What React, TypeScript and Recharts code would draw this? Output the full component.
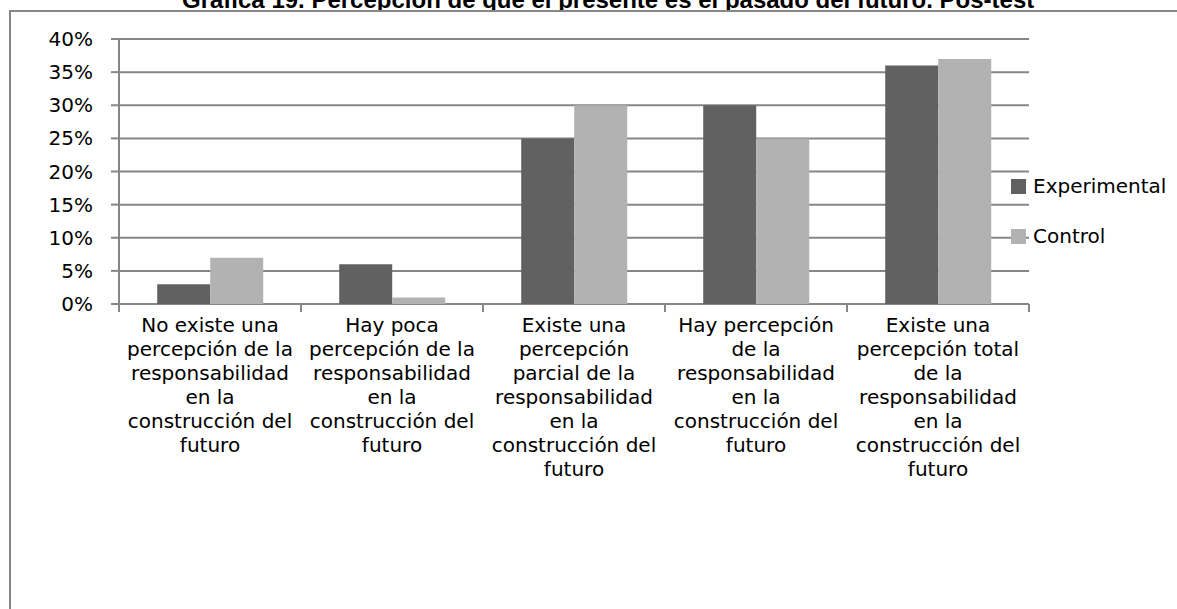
import React from 'react';
import { BarChart, Bar, XAxis, YAxis, CartesianGrid, Legend } from 'recharts';

const categories = [
  'No existe una percepción de la responsabilidad en la construcción del futuro',
  'Hay poca percepción de la responsabilidad en la construcción del futuro',
  'Existe una percepción parcial de la responsabilidad en la construcción del futuro',
  'Hay percepción de la responsabilidad en la construcción del futuro',
  'Existe una percepción total de la responsabilidad en la construcción del futuro',
];

// how the category labels wrap in the original
const tickLines = [
  ['No existe una', 'percepción de la', 'responsabilidad', 'en la', 'construcción del', 'futuro'],
  ['Hay poca', 'percepción de la', 'responsabilidad', 'en la', 'construcción del', 'futuro'],
  ['Existe una', 'percepción', 'parcial de la', 'responsabilidad', 'en la', 'construcción del', 'futuro'],
  ['Hay percepción', 'de la', 'responsabilidad', 'en la', 'construcción del', 'futuro'],
  ['Existe una', 'percepción total', 'de la', 'responsabilidad', 'en la', 'construcción del', 'futuro'],
];

const experimental = [3, 6, 25, 30, 36];
const control = [7, 1, 30, 25, 37];
const seriesNames = ['Experimental', 'Control'];

const yTicks = [0, 5, 10, 15, 20, 25, 30, 35, 40];

const title = 'Gráfica 19. Percepción de que el presente es el pasado del futuro. Pos-test';

const data = categories.map((name, i) => ({
  name,
  experimental: experimental[i],
  control: control[i],
}));

const FONT = '"DejaVu Sans", sans-serif';
const GRID = '#868686';

function CategoryTick(props: any) {
  const { x, y, payload, index, visibleTicksCount } = props;
  const lines = tickLines[payload.index] || [payload.value];
  const half = payload.offset || 0;
  const last = index === (visibleTicksCount || categories.length) - 1;
  return (
    <g>
      {half > 0 && <line x1={x - half} x2={x - half} y1={y} y2={y + 8} stroke={GRID} strokeWidth={2} />}
      {half > 0 && last && <line x1={x + half} x2={x + half} y1={y} y2={y + 8} stroke={GRID} strokeWidth={2} />}
      <text x={x} y={y} textAnchor="middle" fill="#000" fontSize={20} fontFamily={FONT}>
        {lines.map((l: string, i: number) => (
          <tspan key={i} x={x} y={y + 28 + i * 24}>
            {l}
          </tspan>
        ))}
      </text>
    </g>
  );
}

function LegendBox(props: any) {
  const items = [...(props.payload || [])].sort(
    (a: any, b: any) => seriesNames.indexOf(a.value) - seriesNames.indexOf(b.value)
  );
  return (
    <div style={{ fontFamily: FONT, fontSize: 20, color: '#000', whiteSpace: 'nowrap' }}>
      {items.map((it: any) => (
        <div key={it.value} style={{ display: 'flex', alignItems: 'center', height: 50 }}>
          <span style={{ width: 15, height: 15, flexShrink: 0, background: it.color, marginRight: 7 }} />
          <span>{it.value}</span>
        </div>
      ))}
    </div>
  );
}

export default function App() {
  return (
    <div
      style={{
        position: 'fixed',
        left: 0,
        top: 0,
        width: 1177,
        height: 609,
        overflow: 'hidden',
        background: '#fff',
      }}
    >
      <div style={{ position: 'absolute', left: 8, top: 8, width: 1161, height: 593 }}>
        {/* title sits behind the frame; the frame hides its lower part like in the source */}
        <div
          style={{
            position: 'absolute',
            left: 174,
            top: -20,
            width: 850,
            textAlign: 'center',
            fontFamily: '"Liberation Sans", Arial, sans-serif',
            fontWeight: 'bold',
            fontSize: 24,
            lineHeight: '24px',
            whiteSpace: 'nowrap',
          }}
        >
          {title}
        </div>
        <div
          style={{
            position: 'absolute',
            left: 1,
            top: 2,
            width: 1300,
            height: 700,
            background: '#fff',
            border: `2px solid ${GRID}`,
            boxSizing: 'border-box',
          }}
        />
        <BarChart
          width={1161}
          height={593}
          data={data}
          margin={{ top: 31, right: 140, left: 51, bottom: 97 }}
          barCategoryGap="21%"
          barGap={0}
          style={{ position: 'absolute', left: 0, top: 0 }}
        >
          <CartesianGrid horizontal vertical={false} stroke={GRID} strokeWidth={2} />
          <XAxis
            dataKey="name"
            height={200}
            axisLine={false}
            tickLine={false}
            tickSize={0}
            tickMargin={0}
            interval={0}
            tick={<CategoryTick />}
          />
          <YAxis
            width={60}
            domain={[0, 40]}
            ticks={yTicks}
            interval={0}
            tickFormatter={(v: number) => `${v}%`}
            tickSize={8}
            tickMargin={18}
            axisLine={{ stroke: GRID, strokeWidth: 2 }}
            tickLine={{ stroke: GRID, strokeWidth: 2 }}
            tick={{ fill: '#000', fontSize: 20, fontFamily: FONT }}
          />
          <Legend
            layout="vertical"
            align="center"
            verticalAlign="middle"
            wrapperStyle={{ left: 1003, top: 153, width: 170 }}
            content={<LegendBox />}
          />
          <Bar dataKey="experimental" name="Experimental" fill="#616161" isAnimationActive={false} />
          <Bar dataKey="control" name="Control" fill="#b2b2b2" isAnimationActive={false} />
        </BarChart>
      </div>
    </div>
  );
}
